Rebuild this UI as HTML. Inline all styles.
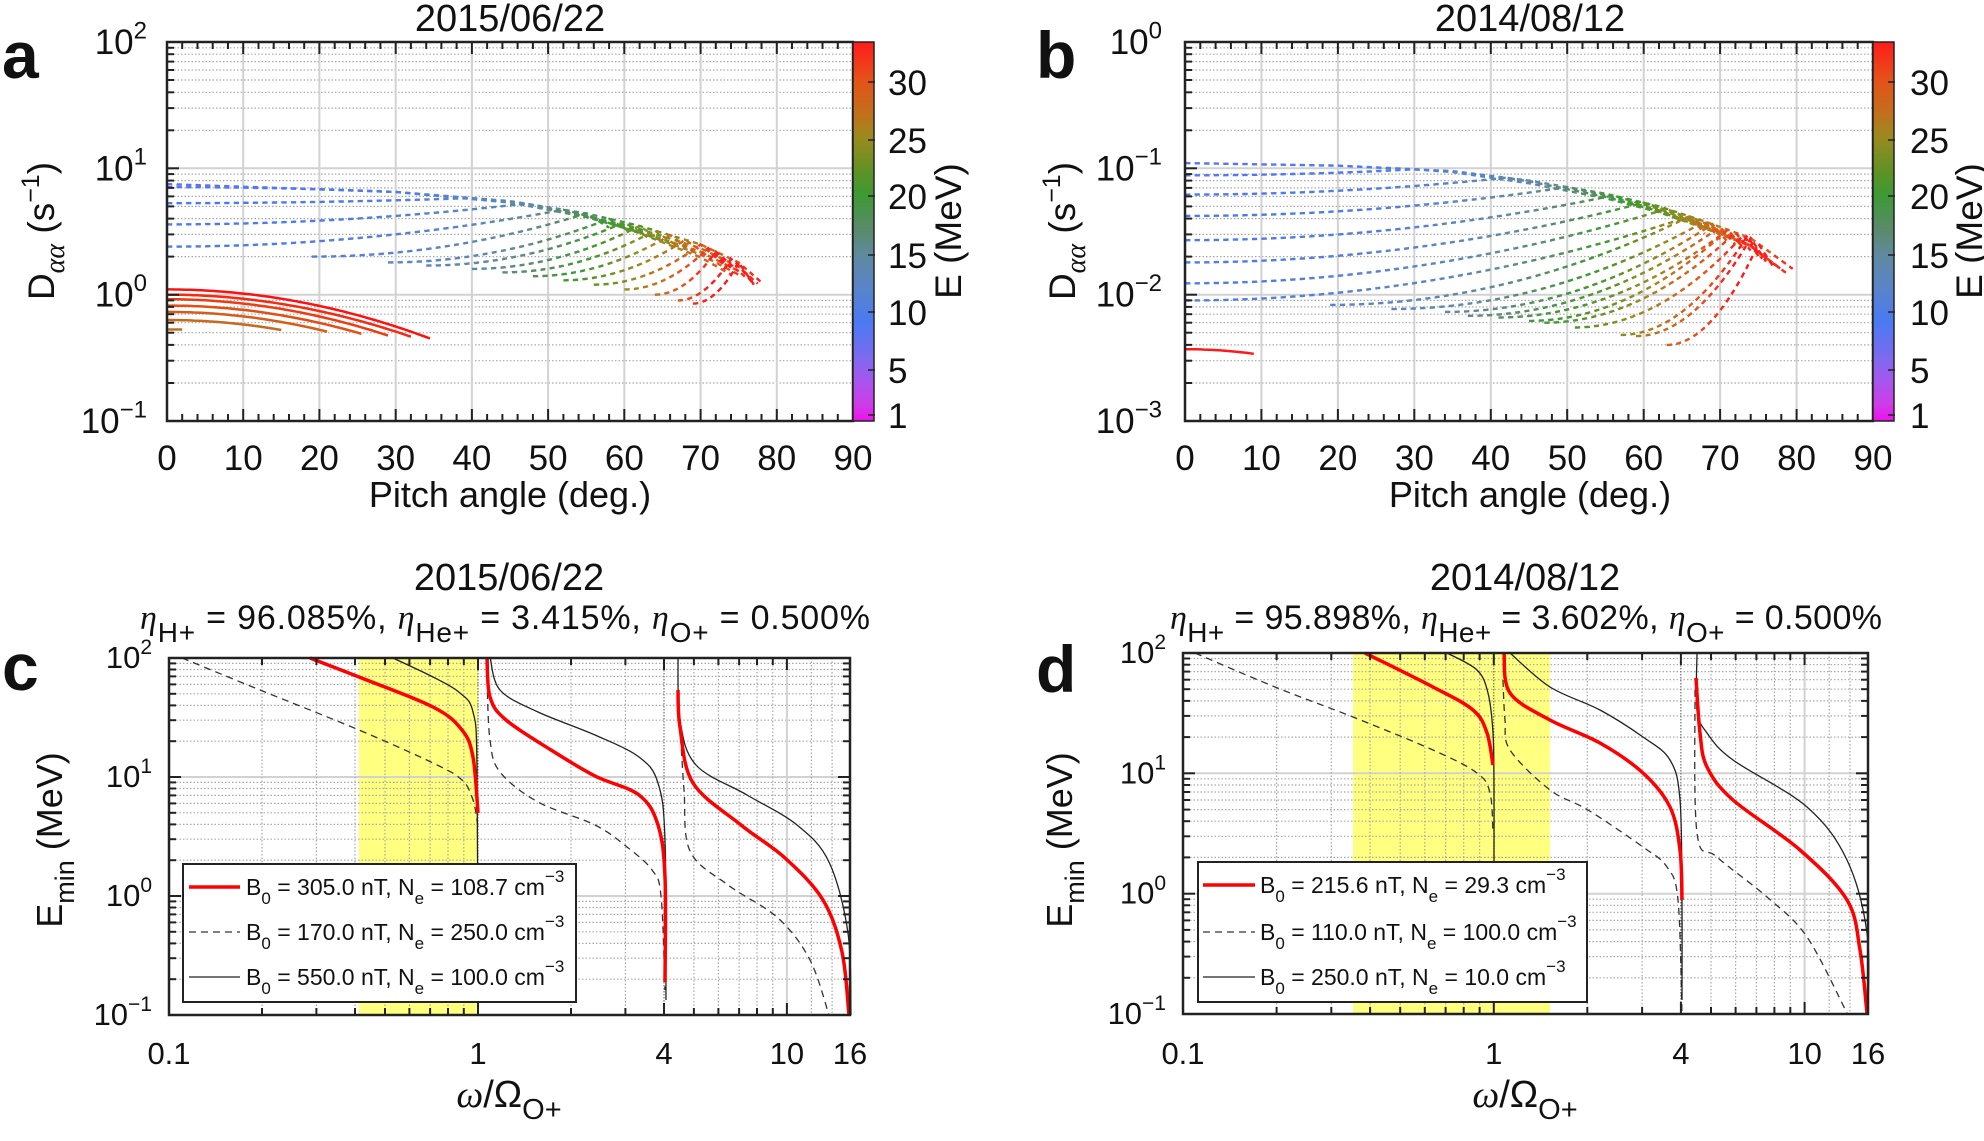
<!DOCTYPE html>
<html><head><meta charset="utf-8">
<style>
html,body{margin:0;padding:0;background:#fff;}
#wrap{width:1984px;height:1141px;overflow:hidden;}
svg text{font-family:"Liberation Sans",Arial,sans-serif;fill:#111;}
</style></head>
<body><div id="wrap"></div>
<script>
(function(){
let s='';
const W=1984,H=1141;
function ln(x1,y1,x2,y2,st,w,da){s+=`<line x1="${x1.toFixed(1)}" y1="${y1.toFixed(1)}" x2="${x2.toFixed(1)}" y2="${y2.toFixed(1)}" stroke="${st}" stroke-width="${w}"${da?` stroke-dasharray="${da}"`:''}/>`;}
function tx(x,y,str,fs,anc,extra){s+=`<text x="${x}" y="${y}" font-size="${fs}" text-anchor="${anc||'start'}" ${extra||''}>${str}</text>`;}
function mk(P){
  P.X=v=>P.xlog? P.L+(Math.log10(v)-P.xmin)/(P.xmax-P.xmin)*(P.R-P.L) : P.L+(v-P.xmin)/(P.xmax-P.xmin)*(P.R-P.L);
  P.Y=v=>P.T+(P.ymax-Math.log10(v))/(P.ymax-P.ymin)*(P.B-P.T);
  return P;
}
function grid(P){
  for(let d=P.ymin;d<P.ymax;d++){
    for(let m=2;m<=9;m++){const y=P.Y(m*Math.pow(10,d));ln(P.L,y,P.R,y,'#a8a8a8',1.2,'1.5 2');}
    if(d>P.ymin){const y=P.Y(Math.pow(10,d));ln(P.L,y,P.R,y,'#d2d2d2',2);}
  }
  if(!P.xlog){for(let v=10;v<90;v+=10){const x=P.X(v);ln(x,P.T,x,P.B,'#d2d2d2',2);}}
  else{
    [0.2,0.3,0.4,0.5,0.6,0.7,0.8,0.9,2,3,5,6,7,8,9,12,14].forEach(v=>{const x=P.X(v);ln(x,P.T,x,P.B,'#a8a8a8',1.2,'1.5 2');});
    ln(P.X(10),P.T,P.X(10),P.B,'#d2d2d2',2);
    ln(P.X(1),P.T,P.X(1),P.B,'#555',1,'1.5 1.5');
    ln(P.X(4),P.T,P.X(4),P.B,'#555',1,'1.5 1.5');
  }
}
function frame(P,rightTicks){
  s+=`<rect x="${P.L}" y="${P.T}" width="${P.R-P.L}" height="${P.B-P.T}" fill="none" stroke="#222" stroke-width="2.5"/>`;
  for(let d=P.ymin;d<P.ymax;d++){
    for(let m=1;m<=9;m++){const y=P.Y(m*Math.pow(10,d));const l=m==1?12:7;
      ln(P.L-1,y,P.L+l,y,'#222',2); if(rightTicks)ln(P.R+1,y,P.R-l,y,'#222',2);}
  }
  if(!P.xlog){for(let v=0;v<=90;v+=2){const x=P.X(v);const l=v%10==0?12:7;ln(x,P.B+1,x,P.B-l,'#222',2);ln(x,P.T-1,x,P.T+l,'#222',2);}}
  else{[0.1,0.2,0.3,0.4,0.5,0.6,0.7,0.8,0.9,1,2,3,4,5,6,7,8,9,10,16].forEach(v=>{const x=P.X(v);const l=[0.1,1,10,4,16].includes(v)?12:7;ln(x,P.B+1,x,P.B-l,'#222',2);ln(x,P.T-1,x,P.T+l,'#222',2);});}
}
function ylabs(P,xr,fs,sup,dy){
  for(let d=P.ymin;d<=P.ymax;d++){const y=P.Y(Math.pow(10,d));
    const e=d<0?'\u2212'+(-d):''+d;
    s+=`<text x="${xr}" y="${(y+dy).toFixed(1)}" font-size="${fs}" text-anchor="end">10<tspan font-size="${sup}" dy="${-fs*0.45}">${e}</tspan></text>`;}
}
const stops=[[33.2,'#ff1a1a'],[30,'#e5521a'],[27,'#c2701c'],[25,'#9a8a1e'],[22,'#5e9226'],[20,'#3d9a34'],[17,'#5a8a6a'],[15,'#5f8a9c'],[12,'#5a84c8'],[9,'#4a7af2'],[6,'#7c6af0'],[4,'#a556ee'],[2,'#cc3ee8'],[0.5,'#ee10ee']];
function hx(c){return [parseInt(c.substr(1,2),16),parseInt(c.substr(3,2),16),parseInt(c.substr(5,2),16)];}
function colE(E){E=Math.max(0.5,Math.min(33.2,E));for(let i=0;i<stops.length-1;i++){const a=stops[i],b=stops[i+1];if(E<=a[0]&&E>=b[0]){const t=(a[0]-E)/(a[0]-b[0]);const c1=hx(a[1]),c2=hx(b[1]);return `rgb(${Math.round(c1[0]+(c2[0]-c1[0])*t)},${Math.round(c1[1]+(c2[1]-c1[1])*t)},${Math.round(c1[2]+(c2[2]-c1[2])*t)})`;}}return '#f00';}
function colorbar(x1,x2,T,B,labx,id){
  let g=`<linearGradient id="${id}" x1="0" y1="0" x2="0" y2="1">`;
  stops.forEach(st=>{g+=`<stop offset="${((33.2-st[0])/32.7).toFixed(3)}" stop-color="${st[1]}"/>`;});
  g+='</linearGradient>';s+=`<defs>${g}</defs>`;
  s+=`<rect x="${x1}" y="${T}" width="${x2-x1}" height="${B-T}" fill="url(#${id})" stroke="#222" stroke-width="1.5"/>`;
  [[30,82],[25,140],[20,196],[15,255],[10,312],[5,370],[1,415]].forEach(a=>{ln(x2-6,a[1],x2+1,a[1],'#222',1.5);tx(labx,a[1]+13,a[0],35);});
}
function interpEnv(env,a){if(a<=env[0][0])return Math.log10(env[0][1]);for(let i=0;i<env.length-1;i++){if(a<=env[i+1][0]){const t=(a-env[i][0])/(env[i+1][0]-env[i][0]);return Math.log10(env[i][1])+(Math.log10(env[i+1][1])-Math.log10(env[i][1]))*t;}}return Math.log10(env[env.length-1][1]);}
function dashCurve(P,env,c,Efn){
  const L0=Math.log10(c.D0);const Lm=interpEnv(env,c.am);
  const f=a=>{if(a<c.am){const t=(a-c.a0)/(c.am-c.a0);return L0+(Lm-L0)*t*t;}const t=(a-c.am)/Math.max(0.01,(c.ae-c.am));return interpEnv(env,a)+Math.log10(c.f)*t;};
  let pts=[];for(let a=c.a0;a<=c.ae+1e-6;a+=0.05){pts.push([P.X(a),P.T+(P.ymax-f(a))/(P.ymax-P.ymin)*(P.B-P.T),a]);}
  let acc=0,on=true,cur=[pts[0]];const DL=5,GL=4;
  for(let i=1;i<pts.length;i++){const dx=pts[i][0]-pts[i-1][0],dy=pts[i][1]-pts[i-1][1];acc+=Math.hypot(dx,dy);
    if(on){cur.push(pts[i]);if(acc>=DL){const am=cur[Math.floor(cur.length/2)][2];
      s+=`<polyline points="${cur.map(p=>p[0].toFixed(1)+','+p[1].toFixed(1)).join(' ')}" fill="none" stroke="${colE(Efn(am,c))}" stroke-width="2.4"/>`;on=false;acc=0;cur=[];}}
    else{if(acc>=GL){on=true;acc=0;cur=[pts[i]];}}}
  if(on&&cur.length>1){const am=cur[0][2];s+=`<polyline points="${cur.map(p=>p[0].toFixed(1)+','+p[1].toFixed(1)).join(' ')}" fill="none" stroke="${colE(Efn(am,c))}" stroke-width="2.4"/>`;}
}
function poly(pts,st,w,da){s+=`<polyline points="${pts.map(p=>p.join(',')).join(' ')}" fill="none" stroke="${st}" stroke-width="${w}" stroke-linejoin="round"${da?` stroke-dasharray="${da}"`:''}/>`;}
function smooth(pts,st,w,da){
  let d=`M${pts[0][0]},${pts[0][1]}`;
  for(let i=0;i<pts.length-1;i++){const p0=pts[Math.max(0,i-1)],p1=pts[i],p2=pts[i+1],p3=pts[Math.min(pts.length-1,i+2)];
    const k=1/6;const c1=[p1[0]+(p2[0]-p0[0])*k,p1[1]+(p2[1]-p0[1])*k],c2=[p2[0]-(p3[0]-p1[0])*k,p2[1]-(p3[1]-p1[1])*k];
    d+=` C${c1[0].toFixed(1)},${c1[1].toFixed(1)} ${c2[0].toFixed(1)},${c2[1].toFixed(1)} ${p2[0]},${p2[1]}`;}
  s+=`<path d="${d}" fill="none" stroke="${st}" stroke-width="${w}" stroke-linejoin="round"${da?` stroke-dasharray="${da}"`:''}/>`;
}

// ---------- Panel A ----------
const A=mk({L:167,R:853,T:42,B:421,xlog:false,xmin:0,xmax:90,ymin:-1,ymax:2});
grid(A);
const envA=[[0,7.5],[30,6.5],[45,5.5],[55,4.4],[62,3.5],[70,2.5],[75,1.8],[78,1.25]];
const cA=[{a0:0,D0:7.5,am:0,ae:78,f:1,k:0},{a0:0,D0:7.1,am:30,ae:77.5,f:0.92,k:1},{a0:0,D0:5.3,am:40,ae:76,f:0.85,k:2},{a0:0,D0:3.6,am:47,ae:75,f:0.8,k:3},{a0:0,D0:2.4,am:52,ae:74,f:0.75,k:4}];
[[19,2.0,55],[29,1.8,58],[34,1.7,60],[40,1.6,62],[44,1.5,64],[48,1.4,66],[52,1.3,68],[56,1.2,70],[60,1.1,71],[64,1.0,72],[67,0.9,74],[69,0.85,75]].forEach((a,i)=>cA.push({a0:a[0],D0:a[1],am:a[2],ae:Math.min(77,a[2]+3),f:0.85,k:5+i}));
cA.forEach(c=>dashCurve(A,envA,c,(a,c)=>8+c.k*0.4+25*Math.pow(a/78,3)));
const redA=[[1.1,34.5,0.45,'#ff1010'],[1.0,32,0.465,'#f52a10'],[0.92,29,0.475,'#ee3c12'],[0.82,25.5,0.49,'#e24e14'],[0.73,21,0.51,'#d65c18'],[0.63,15,0.525,'#c8681c'],[0.53,2,0.53,'#c07020']];
redA.forEach(r=>{let p=[];for(let a=0;a<=r[1];a+=0.5){const L=Math.log10(r[0])-(Math.log10(r[0])-Math.log10(r[2]))*Math.pow(a/r[1],2);p.push([A.X(a).toFixed(1),A.Y(Math.pow(10,L)).toFixed(1)]);}poly(p,r[3],2.5);});
frame(A,false);
colorbar(853,874,42,421,888,'cbA');
ylabs(A,147,35,24,12);
for(let v=0;v<=90;v+=10)tx(A.X(v),470,v,35,'middle');
tx(510,31,'2015/06/22',38,'middle');
tx(510,507,'Pitch angle (deg.)',36,'middle');
s+=`<text transform="translate(54,231) rotate(-90)" font-size="37" text-anchor="middle">D<tspan font-size="28" font-style="italic" font-family="Liberation Serif" dy="10">αα</tspan><tspan dy="-10">  (s</tspan><tspan font-size="25" dy="-15">−1</tspan><tspan dy="15">)</tspan></text>`;
s+=`<text transform="translate(961,231) rotate(-90)" font-size="37" text-anchor="middle">E (MeV)</text>`;
tx(2,78,'a',66,'start','font-weight="bold"');

// ---------- Panel B ----------
const Bp=mk({L:1185,R:1873,T:42,B:421,xlog:false,xmin:0,xmax:90,ymin:-3,ymax:0});
grid(Bp);
const envB=[[0,0.11],[20,0.105],[35,0.095],[45,0.08],[55,0.063],[62,0.05],[68,0.038],[74,0.028],[79.5,0.016]];
const cB=[{a0:0,D0:0.11,am:0,ae:79.5,f:1,k:0}];
[[0.088,30],[0.062,42],[0.042,50],[0.027,56],[0.018,60],[0.0123,63],[0.009,66]].forEach((a,i)=>cB.push({a0:0,D0:a[0],am:a[1],ae:Math.max(a[1]+4,79-i*0.6),f:0.85,k:i+1}));
[[19,0.0083,68],[27,0.0077,70],[34,0.0073,71],[37,0.0068,72],[41,0.0066,73],[45,0.0062,73],[47,0.006,74],[51,0.0055,75],[57,0.0048,75.5],[59,0.0047,76],[63,0.004,77]].forEach((a,i)=>cB.push({a0:a[0],D0:a[1],am:a[2]-2,ae:a[2],f:0.8,k:8+i}));
cB.forEach(c=>dashCurve(Bp,envB,c,(a,c)=>8+c.k*0.35+25*Math.pow(a/80,2.5)));
{let p=[];for(let a=0;a<=9;a+=0.5){p.push([Bp.X(a).toFixed(1),Bp.Y(0.0037-0.0003*Math.pow(a/9,2)).toFixed(1)]);}poly(p,'#ff1a1a',2.5);}
frame(Bp,false);
colorbar(1873,1894,42,421,1910,'cbB');
ylabs(Bp,1162,35,24,12);
for(let v=0;v<=90;v+=10)tx(Bp.X(v),470,v,35,'middle');
tx(1530,31,'2014/08/12',38,'middle');
tx(1530,507,'Pitch angle (deg.)',36,'middle');
s+=`<text transform="translate(1075,231) rotate(-90)" font-size="37" text-anchor="middle">D<tspan font-size="28" font-style="italic" font-family="Liberation Serif" dy="10">αα</tspan><tspan dy="-10">  (s</tspan><tspan font-size="25" dy="-15">−1</tspan><tspan dy="15">)</tspan></text>`;
s+=`<text transform="translate(1982,231) rotate(-90)" font-size="37" text-anchor="middle">E (MeV)</text>`;
tx(1036,78,'b',66,'start','font-weight="bold"');

// ---------- Panel C ----------
const C=mk({L:169,R:850,T:658,B:1015,xlog:true,xmin:-1,xmax:Math.log10(16),ymin:-1,ymax:2});
s+=`<rect x="359" y="658" width="119" height="357" fill="#ffff80"/>`;
grid(C);
smooth([[182,658],[260,690],[359,730],[433,763],[462,780],[473,800],[478,827]],'#333',1.3,'7 5');
smooth([[487,680],[490,740],[500,772],[538,802],[595,825],[627,847],[652,870],[661,896],[665,990]],'#333',1.3,'7 5');
smooth([[680,725],[684,790],[690,851],[728,885],[778,918],[810,960],[829,1015]],'#333',1.3,'7 5');
smooth([[393,658],[433,677],[460,693],[473,712],[477,767],[478,1015]],'#222',1.3);
smooth([[490,657],[500,690],[538,712],[595,735],[639,757],[658,783],[665,840],[666,1000]],'#222',1.3);
smooth([[678,657],[680,720],[696,765],[747,795],[797,825],[829,862],[848,933],[851,1015]],'#222',1.3);
smooth([[310,658],[359,677],[433,707],[462,730],[473,757],[478,813]],'#ff0000',3.5);
smooth([[487,657],[490,697],[506,720],[551,750],[595,776],[639,795],[658,825],[665,877],[665,982]],'#ff0000',3.5);
smooth([[678,690],[680,727],[693,783],[741,825],[785,858],[823,900],[842,952],[849,1015]],'#ff0000',3.5);
function legend(x1,x2,y1,y2,rows,lx1,lx2,tx0){
  s+=`<rect x="${x1}" y="${y1}" width="${x2-x1}" height="${y2-y1}" fill="#fff" stroke="#222" stroke-width="2"/>`;
  rows.forEach(r=>{ln(lx1,r.y,lx2,r.y,r.c,r.w,r.da);
    s+=`<text x="${tx0}" y="${r.y+8}" font-size="23">B<tspan font-size="17" dy="9">0</tspan><tspan dy="-9"> = ${r.b} nT, N</tspan><tspan font-size="17" dy="9">e</tspan><tspan dy="-9"> = ${r.n} cm</tspan><tspan font-size="17" dy="-13">−3</tspan></text>`;});
}
legend(183,576,864,1002,[{y:887,c:'#ff0000',w:3.5,b:'305.0',n:'108.7'},{y:932,c:'#333',w:1.3,da:'7 5',b:'170.0',n:'250.0'},{y:977,c:'#222',w:1.3,b:'550.0',n:'100.0'}],189,240,246);
frame(C,true);
ylabs(C,152,31,21,10);
[[0.1,'0.1'],[1,'1'],[4,'4'],[10,'10'],[16,'16']].forEach(a=>tx(C.X(a[0]).toFixed(1),1064,a[1],31,'middle'));
tx(509,590,'2015/06/22',38,'middle');
s+=`<text x="140" y="629" font-size="34" textLength="730" lengthAdjust="spacing"><tspan font-family="Liberation Serif" font-style="italic">η</tspan><tspan font-size="28" dy="13">H+</tspan><tspan dy="-13"> = 96.085%,  </tspan><tspan font-family="Liberation Serif" font-style="italic">η</tspan><tspan font-size="28" dy="13">He+</tspan><tspan dy="-13"> = 3.415%,  </tspan><tspan font-family="Liberation Serif" font-style="italic">η</tspan><tspan font-size="28" dy="13">O+</tspan><tspan dy="-13"> = 0.500%</tspan></text>`;
s+=`<text x="509" y="1107" font-size="38" text-anchor="middle"><tspan font-family="Liberation Serif" font-style="italic">ω</tspan>/Ω<tspan font-size="29" dy="12">O+</tspan></text>`;
s+=`<text transform="translate(62,840) rotate(-90)" font-size="36" text-anchor="middle">E<tspan font-size="27" dy="12">min</tspan><tspan dy="-12">  (MeV)</tspan></text>`;
tx(2,690,'c',66,'start','font-weight="bold"');

// ---------- Panel D ----------
const D=mk({L:1183,R:1868,T:653,B:1014,xlog:true,xmin:-1,xmax:Math.log10(16),ymin:-1,ymax:2});
s+=`<rect x="1353" y="653" width="197" height="361" fill="#ffff80"/>`;
grid(D);
smooth([[1195,653],[1275,687],[1353,717],[1433,750],[1477,773],[1490,793],[1493,833]],'#333',1.3,'7 5');
smooth([[1503,680],[1505,720],[1510,750],[1550,790],[1588,810],[1643,847],[1667,867],[1678,900],[1682,1013]],'#333',1.3,'7 5');
smooth([[1695,690],[1697,833],[1717,857],[1767,897],[1807,937],[1847,1013]],'#333',1.3,'7 5');
smooth([[1447,653],[1477,670],[1488,693],[1493,733],[1494,787],[1494,862]],'#222',1.3);
smooth([[1510,653],[1550,687],[1600,710],[1643,737],[1670,760],[1680,800],[1682,900],[1682,1000]],'#222',1.3);
smooth([[1697,653],[1697,710],[1707,733],[1733,760],[1807,807],[1847,860],[1867,933],[1868,1014]],'#222',1.3);
smooth([[1365,653],[1433,687],[1473,710],[1487,733],[1493,765]],'#ff0000',3.5);
smooth([[1504,653],[1510,693],[1550,720],[1600,743],[1643,773],[1670,807],[1680,850],[1682,900]],'#ff0000',3.5);
smooth([[1696,678],[1700,733],[1707,767],[1733,800],[1800,850],[1847,900],[1860,950],[1867,1013]],'#ff0000',3.5);
legend(1198,1587,862,1002,[{y:885,c:'#ff0000',w:3.5,b:'215.6',n:'29.3'},{y:932,c:'#333',w:1.3,da:'7 5',b:'110.0',n:'100.0'},{y:977,c:'#222',w:1.3,b:'250.0',n:'10.0'}],1203,1255,1260);
frame(D,true);
ylabs(D,1166,31,21,10);
[[0.1,'0.1'],[1,'1'],[4,'4'],[10,'10'],[16,'16']].forEach(a=>tx(D.X(a[0]).toFixed(1),1064,a[1],31,'middle'));
tx(1525,590,'2014/08/12',38,'middle');
s+=`<text x="1170" y="629" font-size="34" textLength="712" lengthAdjust="spacing"><tspan font-family="Liberation Serif" font-style="italic">η</tspan><tspan font-size="28" dy="13">H+</tspan><tspan dy="-13"> = 95.898%,  </tspan><tspan font-family="Liberation Serif" font-style="italic">η</tspan><tspan font-size="28" dy="13">He+</tspan><tspan dy="-13"> = 3.602%,  </tspan><tspan font-family="Liberation Serif" font-style="italic">η</tspan><tspan font-size="28" dy="13">O+</tspan><tspan dy="-13"> = 0.500%</tspan></text>`;
s+=`<text x="1525" y="1107" font-size="38" text-anchor="middle"><tspan font-family="Liberation Serif" font-style="italic">ω</tspan>/Ω<tspan font-size="29" dy="12">O+</tspan></text>`;
s+=`<text transform="translate(1072,840) rotate(-90)" font-size="36" text-anchor="middle">E<tspan font-size="27" dy="12">min</tspan><tspan dy="-12">  (MeV)</tspan></text>`;
tx(1036,692,'d',66,'start','font-weight="bold"');

document.getElementById('wrap').innerHTML=`<svg xmlns="http://www.w3.org/2000/svg" width="${W}" height="${H}" viewBox="0 0 ${W} ${H}"><rect width="${W}" height="${H}" fill="#fff"/>${s}</svg>`;
})();
</script>
</body></html>
